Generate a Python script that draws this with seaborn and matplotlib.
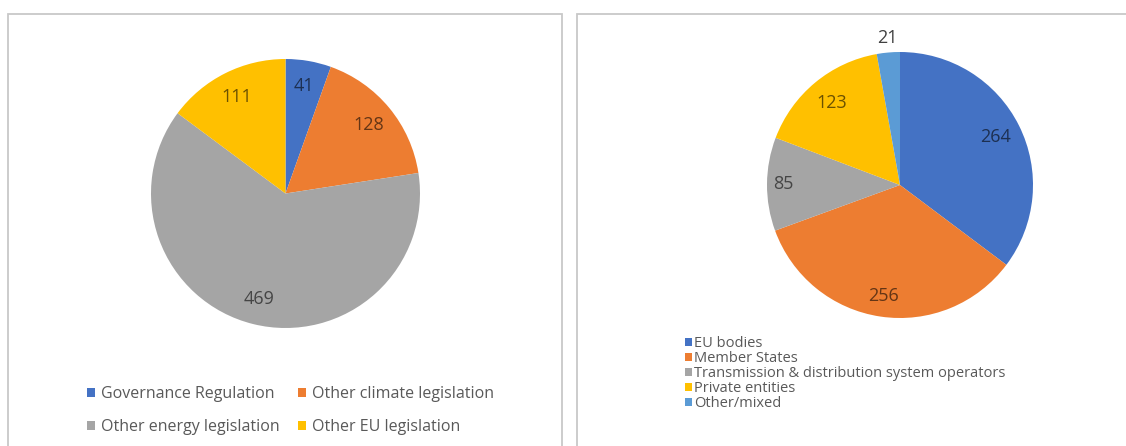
import numpy as np
import matplotlib
matplotlib.use("Agg")
import matplotlib.pyplot as plt
from matplotlib.patches import Rectangle
import seaborn as sns

# ---- data ----
left_labels = ["Governance Regulation", "Other climate legislation",
               "Other energy legislation", "Other EU legislation"]
left_values = [41, 128, 469, 111]

right_labels = ["EU bodies", "Member States",
                "Transmission & distribution system operators",
                "Private entities", "Other/mixed"]
right_values = [264, 256, 85, 123, 21]

# ---- style ----
sns.set_theme(style="white")
plt.rcParams['font.family'] = ['Open Sans', 'DejaVu Sans']

blue, orange, gray, yellow, lblue = "#4472C4", "#ED7D31", "#A5A5A5", "#FFC000", "#5B9BD5"
left_colors = [blue, orange, gray, yellow]
right_colors = [blue, orange, gray, yellow, lblue]

def dark(c, f=0.42):
    r, g, b = matplotlib.colors.to_rgb(c)
    return (r * f, g * f, b * f)

W, H = 1126, 446
fig = plt.figure(figsize=(W / 100, H / 100), dpi=100)
fig.patch.set_facecolor("white")

# panel frames
for x0, x1 in [(8, 562), (577, 1140)]:
    fig.add_artist(Rectangle((x0 / W, -0.1), (x1 - x0) / W, (H - 14) / H + 0.1,
                             transform=fig.transFigure, fill=False,
                             edgecolor="#C8C8C8", linewidth=1.3))

def pie_axes(cx, cy, r):
    ax = fig.add_axes([(cx - r) / W, (H - cy - r) / H, 2 * r / W, 2 * r / H])
    ax.axis("off")
    return ax

def draw_pie(ax, values, colors, label_r, label_colors):
    wedges, _ = ax.pie(values, colors=colors, startangle=90, counterclock=False,
                       radius=1.0, wedgeprops=dict(linewidth=0))
    ax.set_xlim(-1, 1)
    ax.set_ylim(-1, 1)
    ax.set_aspect("equal")
    for w, v, lr, tc in zip(wedges, values, label_r, label_colors):
        mid = np.deg2rad((w.theta1 + w.theta2) / 2)
        ax.text(lr * np.cos(mid), lr * np.sin(mid), str(v), ha="center", va="center",
                fontsize=13, color=tc, clip_on=False)
    return wedges

# left pie
axL = pie_axes(285.5, 193.5, 134.5)
wl = draw_pie(axL, left_values, left_colors, [0.81, 0.8, 0.81, 0.8],
              [dark(c) for c in left_colors])
order = [0, 2, 1, 3]  # row-wise order like the original
fig.legend([wl[i] for i in order], [left_labels[i] for i in order], ncol=2,
           loc="upper left", bbox_to_anchor=(87 / W, (H - 386) / H), frameon=False,
           fontsize=11.5, labelcolor="#595959", handlelength=0.5, handleheight=0.5,
           handletextpad=0.35, columnspacing=1.2, labelspacing=1.05,
           borderpad=0, borderaxespad=0)

# right pie
axR = pie_axes(900, 185, 133)
wr = draw_pie(axR, right_values, right_colors, [0.8, 0.84, 0.88, 0.8, 1.11],
              [dark(c) for c in right_colors[:4]] + ["#404040"])
fig.legend(wr, right_labels, ncol=1, loc="upper left",
           bbox_to_anchor=(685 / W, (H - 336) / H), frameon=False,
           fontsize=10.5, labelcolor="#595959", handlelength=0.5, handleheight=0.5,
           handletextpad=0.15, labelspacing=0.0,
           borderpad=0, borderaxespad=0)

fig.savefig("out.png", dpi=100, facecolor="white")
